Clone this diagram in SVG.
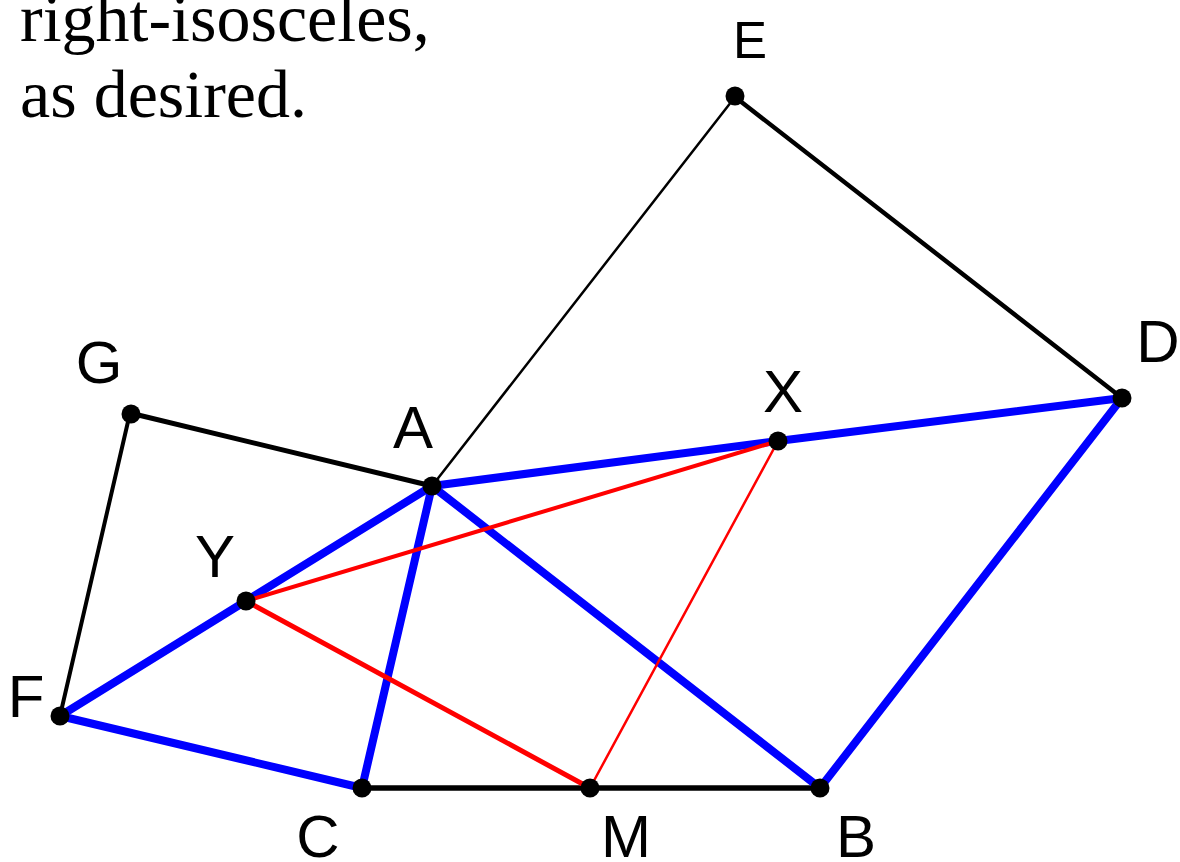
<svg xmlns="http://www.w3.org/2000/svg" width="1180" height="862" viewBox="0 0 1180 862">
<style>
.lbl{font-family:"Liberation Sans",Arial,sans-serif;font-size:60px;fill:#000;text-anchor:middle}
.txt{font-family:"Liberation Serif","Times New Roman",serif;font-size:68px;fill:#000}
.blk{stroke:#000;fill:none;stroke-linecap:round}
.blu{stroke:#0000ff;fill:none;stroke-width:8;stroke-linecap:round}
.red{stroke:#ff0000;fill:none;stroke-linecap:round}
.dot{fill:#000}
</style>
<rect width="1180" height="862" fill="#fff"/>
<g id="caption">
<text class="txt" x="20" y="41">right-isosceles,</text>
<text class="txt" x="20" y="117">as desired.</text>
</g>
<g id="connectors">
<line class="blk" x1="432" y1="486" x2="735" y2="97" stroke-width="2.5"/>
<line class="blk" x1="735" y1="97" x2="1122" y2="398" stroke-width="4.5"/>
<line class="blk" x1="130" y1="413" x2="432" y2="486" stroke-width="5"/>
<line class="blk" x1="130" y1="413" x2="60" y2="716" stroke-width="4"/>
<line class="blk" x1="362" y1="788" x2="820" y2="788" stroke-width="5.5"/>
<line class="blu" x1="432" y1="486" x2="778" y2="441"/>
<line class="blu" x1="778" y1="441" x2="1122" y2="398" stroke-width="10"/>
<line class="blu" x1="1122" y1="398" x2="820" y2="788"/>
<line class="blu" x1="432" y1="486" x2="820" y2="788"/>
<line class="blu" x1="432" y1="486" x2="362" y2="788"/>
<line class="blu" x1="432" y1="486" x2="60" y2="716"/>
<line class="blu" x1="60" y1="716" x2="362" y2="788"/>
<line class="red" x1="246" y1="601" x2="778" y2="441" stroke-width="4"/>
<line class="red" x1="246" y1="601" x2="590" y2="788" stroke-width="5"/>
<line class="red" x1="590" y1="788" x2="778" y2="441" stroke-width="2.5"/>
</g>
<g id="node-E"><circle class="dot" cx="735" cy="96" r="9.5"/><text class="lbl" x="750" y="58" style="font-size:51px">E</text></g>
<g id="node-D"><circle class="dot" cx="1122" cy="398" r="9.5"/><text class="lbl" x="1158" y="362">D</text></g>
<g id="node-X"><circle class="dot" cx="778" cy="441" r="9.5"/><text class="lbl" x="783" y="412">X</text></g>
<g id="node-A"><circle class="dot" cx="432" cy="486" r="9.5"/><text class="lbl" x="413" y="448">A</text></g>
<g id="node-G"><circle class="dot" cx="131" cy="414" r="9.5"/><text class="lbl" x="99" y="383">G</text></g>
<g id="node-Y"><circle class="dot" cx="246" cy="601" r="9.5"/><text class="lbl" x="215" y="577">Y</text></g>
<g id="node-F"><circle class="dot" cx="60" cy="716" r="9.5"/><text class="lbl" x="26" y="717">F</text></g>
<g id="node-C"><circle class="dot" cx="362" cy="788" r="9.5"/><text class="lbl" x="318" y="857">C</text></g>
<g id="node-M"><circle class="dot" cx="590" cy="788" r="9.5"/><text class="lbl" x="626" y="857">M</text></g>
<g id="node-B"><circle class="dot" cx="820" cy="788" r="9.5"/><text class="lbl" x="856" y="857">B</text></g>
</svg>
